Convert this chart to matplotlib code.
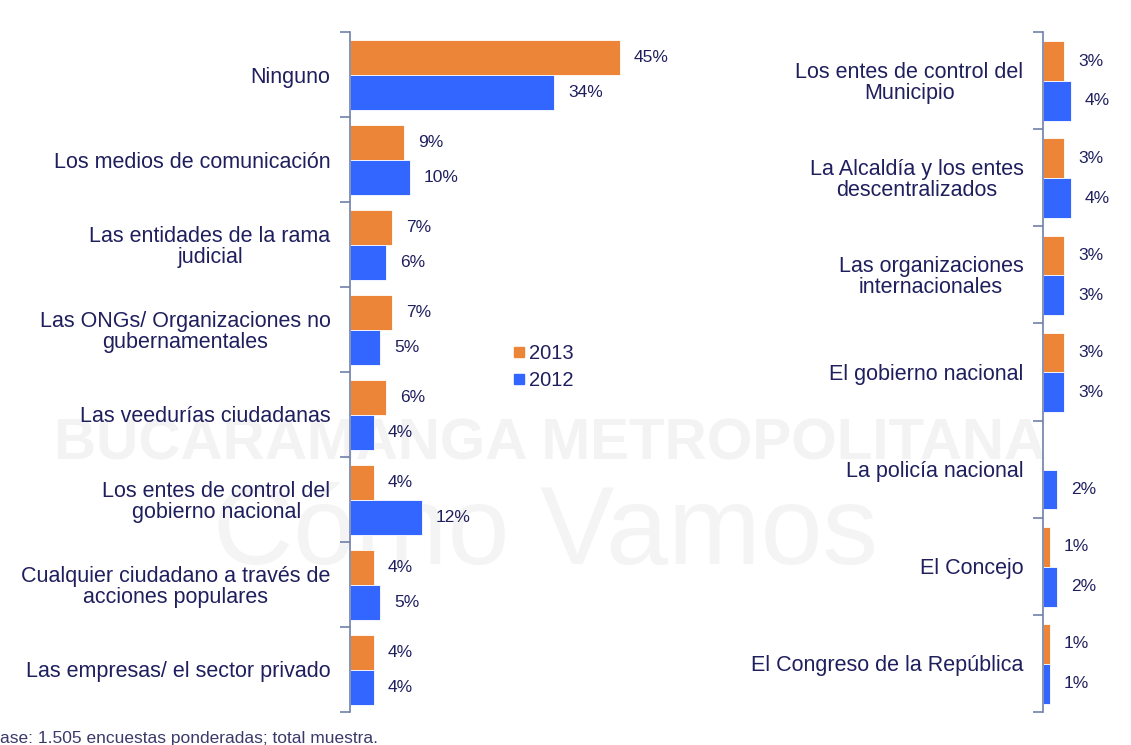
import numpy as np
import matplotlib.pyplot as plt
from matplotlib.lines import Line2D

plt.rcParams['font.family'] = ['Liberation Sans', 'DejaVu Sans']

# left panel
cats_left = ['Ninguno', 'Los medios de comunicación', 'Las entidades de la rama\njudicial',
             'Las ONGs/ Organizaciones no\ngubernamentales', 'Las veedurías ciudadanas',
             'Los entes de control del\ngobierno nacional',
             'Cualquier ciudadano a través de\nacciones populares',
             'Las empresas/ el sector privado']
y2013_left = [45, 9, 7, 7, 6, 4, 4, 4]
y2012_left = [34, 10, 6, 5, 4, 12, 5, 4]

# right panel
cats_right = ['Los entes de control del\nMunicipio', 'La Alcaldía y los entes\ndescentralizados',
              'Las organizaciones\ninternacionales', 'El gobierno nacional',
              'La policía nacional', 'El Concejo', 'El Congreso de la República']
y2013_right = [3, 3, 3, 3, None, 1, 1]
y2012_right = [4, 4, 3, 3, 2, 2, 1]

c13 = '#ED8538'
c12 = '#3366FF'
txt = '#1f1f5e'
spine_c = '#7080a8'

W, H = 1131, 745
fig = plt.figure(figsize=(W / 100, H / 100), dpi=100)

# faint watermark
fig.text(550 / W, 1 - 445 / H, 'BUCARAMANGA METROPOLITANA', fontsize=42, fontweight='bold',
         color='#f3f3f3', ha='center', va='center', zorder=-5)
fig.text(545 / W, 1 - 535 / H, 'Cómo Vamos', fontsize=80, color='#f4f4f4',
         ha='center', va='center', zorder=-5)


def panel(ax, cats, v13, v12, xmax):
    n = len(cats)
    y = np.arange(n)
    a = np.array([np.nan if v is None else v for v in v13], dtype=float)
    b = np.array(v12, dtype=float)
    ax.barh(y - 0.2, a, height=0.41, color=c13, edgecolor='white', linewidth=0.6)
    ax.barh(y + 0.21, b, height=0.41, color=c12, edgecolor='white', linewidth=0.6)
    for i in range(n):
        if not np.isnan(a[i]):
            ax.annotate('%d%%' % a[i], (a[i], y[i] - 0.2), xytext=(10, 0), textcoords='offset points',
                        va='center', ha='left', fontsize=12.5, color=txt, annotation_clip=False)
        ax.annotate('%d%%' % b[i], (b[i], y[i] + 0.21), xytext=(10, 0), textcoords='offset points',
                    va='center', ha='left', fontsize=12.5, color=txt, annotation_clip=False)
    ax.set_xlim(0, xmax)
    ax.set_ylim(n - 0.5, -0.5)
    ax.set_yticks(y)
    ax.set_yticklabels(cats, fontsize=15.5, color=txt, ha='right', multialignment='center',
                       linespacing=1.0)
    ax.tick_params(axis='y', which='major', length=0, pad=14)
    ax.set_yticks(np.arange(n + 1) - 0.5, minor=True)
    ax.tick_params(axis='y', which='minor', length=7, width=1.2, color=spine_c, direction='out')
    ax.set_xticks([])
    for s in ['top', 'right', 'bottom']:
        ax.spines[s].set_visible(False)
    ax.spines['left'].set_color(spine_c)
    ax.spines['left'].set_linewidth(1.2)
    ax.set_facecolor('none')


ax1 = fig.add_axes([350 / W, 1 - 712 / H, 350 / W, 680 / H])
panel(ax1, cats_left, y2013_left, y2012_left, 350 / 6.0)

ax2 = fig.add_axes([1043 / W, 1 - 712 / H, 88 / W, 680 / H])
panel(ax2, cats_right, y2013_right, y2012_right, 88 / 7.0)

# legend
handles = [Line2D([], [], marker='s', ls='', color=c13, markersize=7),
           Line2D([], [], marker='s', ls='', color=c12, markersize=7)]
fig.legend(handles, ['2013', '2012'], loc='center left', bbox_to_anchor=(503 / W, 1 - 367 / H),
           frameon=False, fontsize=14.5, labelcolor=txt, handlelength=0.6, handletextpad=0.2,
           labelspacing=0.4, borderpad=0)

fig.text(0, 1 - 738 / H, 'ase: 1.505 encuestas ponderadas; total muestra.',
         fontsize=12.5, color='#3a3a6a', ha='left', va='center')

fig.savefig('out.png', dpi=100)
